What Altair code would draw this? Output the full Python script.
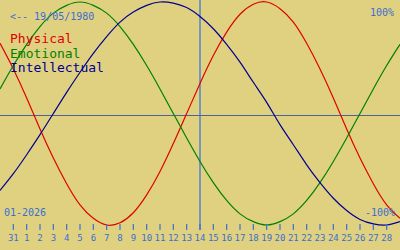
import altair as alt
import pandas as pd

# Day labels (Dec 31 .. Jan 28), x index 1..29 ; plot spans index 0..30
day_labels = ["31"] + [str(d) for d in range(1, 29)]
day_index = list(range(1, 30))
x_index = list(range(0, 31))

physical = [0.63, 0.40, 0.14, -0.14, -0.40, -0.63, -0.82, -0.94, -1.00, -0.98,
            -0.89, -0.73, -0.52, -0.27, 0.00, 0.27, 0.52, 0.73, 0.89, 0.98,
            1.00, 0.94, 0.82, 0.63, 0.40, 0.14, -0.14, -0.40, -0.63, -0.82, -0.94]
emotional = [0.22, 0.43, 0.62, 0.78, 0.90, 0.97, 1.00, 0.97, 0.90, 0.78,
             0.62, 0.43, 0.22, 0.00, -0.22, -0.43, -0.62, -0.78, -0.90, -0.97,
             -1.00, -0.97, -0.90, -0.78, -0.62, -0.43, -0.22, 0.00, 0.22, 0.43, 0.62]
intellectual = [-0.69, -0.54, -0.37, -0.19, 0.00, 0.19, 0.37, 0.54, 0.69, 0.82,
                0.91, 0.97, 1.00, 0.99, 0.95, 0.87, 0.76, 0.62, 0.46, 0.28,
                0.10, -0.10, -0.28, -0.46, -0.62, -0.76, -0.87, -0.95, -0.99, -1.00, -0.97]

series_names = ["Physical", "Emotional", "Intellectual"]
series_colors = ["#e00000", "#008000", "#000090"]
today_index = 15  # 14 Jan

rows = []
for name, vals in zip(series_names, [physical, emotional, intellectual]):
    for i, v in zip(x_index, vals):
        rows.append({"series": name, "i": i, "v": v})
df = pd.DataFrame(rows)

ticks_df = pd.DataFrame({"i": day_index, "label": day_labels})

xs = alt.Scale(domain=[0, 30], range=[0, 400], nice=False, zero=False)
ys = alt.Scale(domain=[-1, 1], range=[225, 2], nice=False, zero=False)
cs = alt.Scale(domain=series_names, range=series_colors)

blue = "#3a6ed2"
mono = "DejaVu Sans Mono"

hline = alt.Chart(pd.DataFrame({"a": [0]})).mark_rule(color="#4a6496", strokeWidth=1).encode(
    x=alt.value(0), x2=alt.value(400), y=alt.value(115.5))

vline = alt.Chart(pd.DataFrame({"i": [today_index]})).mark_rule(color="#3070e0", strokeWidth=1.2).encode(
    x=alt.X("i:Q", scale=xs, axis=None), y=alt.value(0), y2=alt.value(230))

lines = alt.Chart(df).mark_line(strokeWidth=1.2, interpolate="natural").encode(
    x=alt.X("i:Q", scale=xs, axis=None),
    y=alt.Y("v:Q", scale=ys, axis=None),
    color=alt.Color("series:N", scale=cs, legend=None),
    detail="series:N")

ticks = alt.Chart(ticks_df).mark_rule(color=blue, strokeWidth=1.2).encode(
    x=alt.X("i:Q", scale=xs, axis=None), y=alt.value(224), y2=alt.value(230))

tick_labels = alt.Chart(ticks_df).mark_text(
    font=mono, fontSize=9, color=blue, align="center", baseline="alphabetic").encode(
    x=alt.X("i:Q", scale=xs, axis=None), y=alt.value(241), text="label:N")

def label(txt, x, y, align, size=10, color=blue):
    return alt.Chart(pd.DataFrame({"t": [txt]})).mark_text(
        font=mono, fontSize=size, color=color, align=align, baseline="alphabetic").encode(
        x=alt.value(x), y=alt.value(y), text="t:N")

legend_layers = [label(n, 10, yy, "left", 13, c)
                 for n, c, yy in zip(series_names, series_colors, [43, 57.5, 72])]

chart = alt.layer(
    hline, vline, lines, ticks, tick_labels, *legend_layers,
    label("<-- 19/05/1980", 10, 20, "left"),
    label("100%", 394, 16, "right"),
    label("-100%", 395, 216, "right"),
    label("01-2026", 4, 216, "left"),
).properties(
    width=400, height=250, autosize=alt.AutoSizeParams(type="none"), padding=0,
    background="#e0d181"
).configure_view(stroke=None)

chart.save("out.html", embed_options={"renderer": "svg", "actions": False})
